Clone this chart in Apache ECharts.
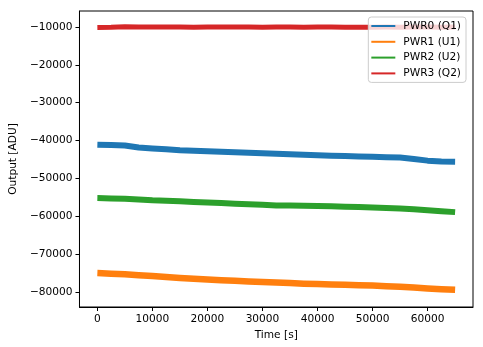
<!DOCTYPE html>
<html>
<head>
<meta charset="utf-8">
<script src="https://cdn.jsdelivr.net/npm/echarts@6/dist/echarts.min.js"></script>
<style>
  html, body { margin: 0; padding: 0; background: #fff; }
  #chart { width: 483px; height: 347px; }
</style>
</head>
<body>
<div id="chart"></div>
<script>
// Sample times [s]
const times = [0, 2500, 5000, 7500, 10000, 12500, 15000, 17500, 20000, 22500, 25000, 27500, 30000,
  32500, 35000, 37500, 40000, 42500, 45000, 47500, 50000, 52500, 55000, 57500, 60000, 62500, 65000];

// Output of each power channel [ADU]
const pwr0 = [-41100, -41200, -41300, -41850, -42100, -42300, -42550, -42700, -42850, -42980, -43100, -43220, -43350,
  -43500, -43600, -43750, -43850, -43980, -44100, -44200, -44300, -44400, -44500, -44850, -45300, -45550, -45600];
const pwr1 = [-75000, -75150, -75300, -75550, -75800, -76050, -76300, -76500, -76700, -76900, -77050, -77200, -77350,
  -77500, -77650, -77800, -77900, -78000, -78100, -78200, -78300, -78450, -78600, -78800, -79050, -79250, -79400];
const pwr2 = [-55200, -55280, -55370, -55550, -55780, -55900, -56050, -56230, -56370, -56520, -56670, -56800, -56950,
  -57120, -57180, -57230, -57300, -57360, -57450, -57560, -57680, -57800, -57950, -58150, -58400, -58650, -58900];
const pwr3 = [-10150, -10100, -9950, -10000, -9980, -10020, -10000, -10050, -10000, -9980, -10030, -10000, -10050,
  -10020, -10000, -10050, -10030, -10000, -10050, -10080, -10050, -10020, -10050, -10000, -10030, -10050, -10000];

const seriesNames = ['PWR0 (Q1)', 'PWR1 (U1)', 'PWR2 (U2)', 'PWR3 (Q2)'];
const seriesValues = [pwr0, pwr1, pwr2, pwr3];
const seriesColors = ['#1f77b4', '#ff7f0e', '#2ca02c', '#d62728'];
const bandWidths = [6, 6.5, 6, 5];

const xTicks = [0, 10000, 20000, 30000, 40000, 50000, 60000];
const yTicks = [-80000, -70000, -60000, -50000, -40000, -30000, -20000, -10000];

const font = 'DejaVu Sans';
const fs = 10.6;
// plain integers with a typographic minus sign
const tickText = v => (v < 0 ? '\u2212' + Math.abs(v) : String(v));

const chart = echarts.init(document.getElementById('chart'), null, { renderer: 'canvas' });

chart.setOption({
  animation: false,
  backgroundColor: '#fff',
  grid: {
    left: 75, right: 10, top: 11, bottom: 40,
    show: true, borderColor: '#000', borderWidth: 1, backgroundColor: 'transparent'
  },
  legend: {
    orient: 'vertical',
    right: 17, top: 17,
    padding: [3, 5, 3, 3],
    itemGap: 3.8,
    itemWidth: 24, itemHeight: 2,
    icon: 'rect',
    backgroundColor: 'rgba(255,255,255,0.8)',
    borderColor: '#cccccc', borderWidth: 1, borderRadius: 3,
    textStyle: { fontFamily: font, fontSize: fs, color: '#000', lineHeight: 12, padding: [0, 0, 0, 3] },
    data: seriesNames
  },
  xAxis: {
    type: 'value',
    min: -3250, max: 68250,
    name: 'Time [s]', nameLocation: 'middle', nameGap: 20,
    nameTextStyle: { fontFamily: font, fontSize: fs, color: '#000' },
    axisLine: { onZero: false, lineStyle: { color: '#000', width: 1 } },
    axisTick: { show: true, length: 4, lineStyle: { color: '#000' }, customValues: xTicks },
    axisLabel: { fontFamily: font, fontSize: fs, color: '#000', margin: 7, customValues: xTicks, formatter: tickText },
    splitLine: { show: false }
  },
  yAxis: {
    type: 'value',
    min: -83958, max: -5778,
    name: 'Output [ADU]', nameLocation: 'middle', nameGap: 57,
    nameTextStyle: { fontFamily: font, fontSize: fs, color: '#000' },
    axisLine: { onZero: false, lineStyle: { color: '#000', width: 1 } },
    axisTick: { show: true, length: 4, lineStyle: { color: '#000' }, customValues: yTicks },
    axisLabel: { fontFamily: font, fontSize: fs, color: '#000', margin: 7, customValues: yTicks, formatter: tickText },
    splitLine: { show: false }
  },
  series: seriesNames.map((name, i) => ({
    name: name,
    type: 'line',
    data: times.map((t, j) => [t, seriesValues[i][j]]),
    showSymbol: false,
    symbol: 'none',
    color: seriesColors[i],
    lineStyle: { color: seriesColors[i], width: bandWidths[i], cap: 'butt', join: 'round' },
    z: 2
  }))
});
</script>
</body>
</html>
